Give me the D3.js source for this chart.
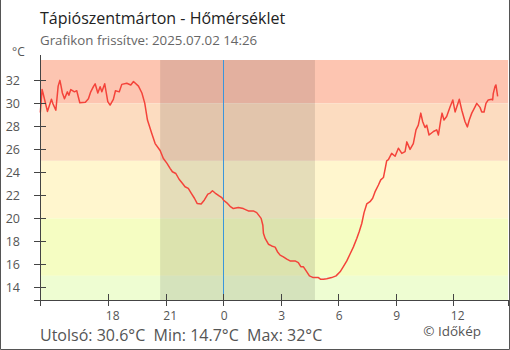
<!DOCTYPE html>
<html>
<head>
<meta charset="utf-8">
<script src="https://cdn.jsdelivr.net/npm/d3@7"></script>
<style>
  html, body { margin: 0; padding: 0; background: #fff; }
  svg { display: block; font-family: "Open Sans", "Noto Sans", sans-serif; }
</style>
</head>
<body>
<svg id="chart" width="510" height="350"></svg>
<script>
// ---- data (time = hours since 2025-07-01 00:00) ----
const title = "Tápiószentmárton - Hőmérséklet";
const subtitle = "Grafikon frissítve: 2025.07.02 14:26";
const footer = "Utolsó: 30.6°C  Min: 14.7°C  Max: 32°C";
const credit = "© Időkép";
const unitLabel = "°C";

const times = [
  14.45,14.54,14.59,14.82,15.03,15.10,15.26,15.38,15.47,15.52,15.60,15.71,15.86,15.94,
  16.04,16.23,16.35,16.51,16.80,16.96,17.08,17.22,17.31,17.45,17.57,17.66,17.81,17.97,
  18.09,18.26,18.37,18.57,18.70,18.96,19.17,19.31,19.57,19.75,19.90,20.04,20.26,20.44,
  20.70,20.87,21.05,21.22,21.34,21.52,21.69,21.86,22.00,22.17,22.32,22.49,22.63,22.84,
  23.01,23.19,23.31,23.43,23.57,23.78,23.92,24.00,24.18,24.35,24.52,24.78,25.04,25.30,
  25.56,25.74,25.83,25.97,26.06,26.09,26.18,26.35,26.52,26.70,26.82,26.96,27.13,27.31,
  27.48,27.74,27.91,28.04,28.17,28.31,28.49,28.69,28.96,29.08,29.22,29.39,29.65,29.88,
  30.09,30.26,30.44,30.61,30.78,30.96,31.09,31.22,31.34,31.48,31.65,31.79,31.91,32.09,
  32.21,32.35,32.44,32.52,32.61,32.78,32.96,33.13,33.31,33.48,33.57,33.74,33.91,34.05,
  34.17,34.30,34.40,34.52,34.61,34.73,34.96,35.13,35.22,35.34,35.41,35.51,35.65,35.83,
  35.97,36.09,36.21,36.31,36.44,36.61,36.73,36.83,36.96,37.13,37.22,37.39,37.48,37.60,
  37.70,37.82,38.00,38.05,38.08,38.17,38.22,38.29,38.31
];
const temps = [
  29.2,31.2,30.9,29.3,30.35,30.0,29.4,31.5,32.0,31.6,30.9,30.4,31.0,30.7,
  31.2,31.0,31.1,30.05,30.1,30.4,31.0,31.45,31.7,30.9,31.45,31.0,31.7,30.15,
  29.85,30.35,31.1,31.0,31.65,31.75,31.6,31.9,31.5,30.9,30.0,28.55,27.4,26.5,
  25.9,25.2,24.8,24.35,24.05,23.9,23.4,23.05,22.75,22.6,22.2,21.75,21.3,21.25,
  21.6,22.1,22.2,22.4,22.2,21.95,21.8,21.6,21.35,21.05,20.85,20.95,20.85,20.65,
  20.65,20.5,20.3,20.0,19.4,18.7,18.25,17.75,17.6,17.5,17.1,16.8,16.65,16.45,
  16.3,16.3,16.15,15.8,15.8,15.45,15.0,14.85,14.85,14.7,14.7,14.75,14.85,15.0,
  15.35,15.8,16.3,16.9,17.5,18.25,18.85,19.55,20.5,21.25,21.45,21.75,22.3,22.9,
  23.35,23.55,24.3,25.0,25.1,25.65,25.4,26.1,25.65,25.8,26.65,26.0,26.5,27.7,
  28.1,29.15,28.4,27.9,28.1,27.25,27.55,27.7,27.25,28.55,29.15,28.55,28.85,29.7,
  30.3,29.25,29.85,30.35,29.4,28.4,27.95,28.55,29.15,29.7,30.0,29.65,29.25,29.25,
  30.0,30.3,30.35,30.3,30.85,31.45,31.6,30.85,30.6
];

const yTicks = [14, 16, 18, 20, 22, 24, 26, 28, 30, 32];
const xTicks = [18, 21, 24, 27, 30, 33, 36];          // hours since 2025-07-01 00:00
const xTickLabels = ["18", "21", "0", "3", "6", "9", "12"];

const bandEdges = [33.77, 30, 25, 20, 15, 12.9];       // °C
const bandColors = ["#fdc5b1", "#fcdcc0", "#fff6ce", "#f5fdc2", "#eefdd2"];

const nightStart = 20.70, nightEnd = 28.78;           // dark period
const midnight = 24;
const timeDomain = [14.433, 38.85];
const tempDomain = [12.9, 33.77];

// ---- layout ----
const svg = d3.select("#chart");
const W = 510, H = 350;
const plot = { left: 40, right: 508, top: 60, bottom: 300 };

const x = d3.scaleLinear().domain(timeDomain).range([plot.left, plot.right]);
const y = d3.scaleLinear().domain(tempDomain).range([plot.bottom, plot.top]);

// bands
const bands = bandColors.map((c, i) => ({ hi: bandEdges[i], lo: bandEdges[i + 1], c }));
svg.append("g").selectAll("rect").data(bands).join("rect")
  .attr("x", plot.left)
  .attr("width", plot.right - plot.left)
  .attr("y", d => y(d.hi))
  .attr("height", d => y(d.lo) - y(d.hi))
  .attr("fill", d => d.c);

// night overlay
svg.append("rect")
  .attr("x", x(nightStart)).attr("width", x(nightEnd) - x(nightStart))
  .attr("y", plot.top).attr("height", plot.bottom - plot.top)
  .attr("fill", "rgba(0,0,0,0.1)");

// midnight line
svg.append("line")
  .attr("x1", Math.round(x(midnight)) + 0.5).attr("x2", Math.round(x(midnight)) + 0.5)
  .attr("y1", plot.top).attr("y2", plot.bottom)
  .attr("stroke", "#3a96dc").attr("stroke-width", 1);

// temperature line
const line = d3.line().x((d, i) => x(times[i])).y(d => y(d));
svg.append("path")
  .attr("d", line(temps))
  .attr("fill", "none")
  .attr("stroke", "#f4433a")
  .attr("stroke-width", 1.5)
  .attr("stroke-linejoin", "round");

// axes
const axisColor = "#444";
const textColor = "#555";
const yAx = svg.append("g");
yAx.append("line")
  .attr("x1", plot.left + 0.5).attr("x2", plot.left + 0.5)
  .attr("y1", 55).attr("y2", plot.bottom)
  .attr("stroke", axisColor);
yAx.selectAll("line.tick").data(yTicks).join("line").attr("class", "tick")
  .attr("x1", plot.left - 6).attr("x2", plot.left + 6)
  .attr("y1", d => Math.round(y(d)) + 0.5).attr("y2", d => Math.round(y(d)) + 0.5)
  .attr("stroke", axisColor);
yAx.selectAll("text").data(yTicks).join("text")
  .attr("x", 20).attr("y", d => y(d))
  .attr("dy", "0.36em")
  .attr("text-anchor", "end")
  .attr("font-size", 12.5)
  .attr("fill", textColor)
  .text(d => d);

const xAx = svg.append("g");
xAx.append("line")
  .attr("x1", plot.left - 6).attr("x2", plot.right)
  .attr("y1", plot.bottom + 0.5).attr("y2", plot.bottom + 0.5)
  .attr("stroke", axisColor);
xAx.selectAll("line.tick").data(xTicks).join("line").attr("class", "tick")
  .attr("x1", d => Math.round(x(d)) + 0.5).attr("x2", d => Math.round(x(d)) + 0.5)
  .attr("y1", plot.bottom - 6).attr("y2", plot.bottom + 6)
  .attr("stroke", axisColor);
xAx.selectAll("line.edge").data(timeDomain).join("line").attr("class", "edge")
  .attr("x1", d => Math.round(x(d)) + 0.5).attr("x2", d => Math.round(x(d)) + 0.5)
  .attr("y1", plot.bottom).attr("y2", plot.bottom + 6)
  .attr("stroke", axisColor);
xAx.selectAll("text").data(xTicks).join("text")
  .attr("x", d => x(d) - 2.6).attr("y", 319.5)
  .attr("text-anchor", "start")
  .attr("font-size", 12)
  .attr("fill", textColor)
  .text((d, i) => xTickLabels[i]);

// texts
svg.append("text").attr("x", 40).attr("y", 24)
  .attr("font-size", 16).attr("fill", "#222").text(title);
svg.append("text").attr("x", 40).attr("y", 45)
  .attr("font-size", 13.3).attr("fill", "#666").text(subtitle);
svg.append("text").attr("x", 12).attr("y", 56)
  .attr("font-size", 12).attr("fill", textColor).text(unitLabel);
svg.append("text").attr("x", 40).attr("y", 340.5)
  .attr("font-size", 16).attr("fill", textColor)
  .style("white-space", "pre").text(footer);
svg.append("text").attr("x", 481).attr("y", 336)
  .attr("text-anchor", "end")
  .attr("font-size", 13.5).attr("fill", textColor).text(credit);

// border (left, bottom, right)
svg.append("path")
  .attr("d", `M0.5,0 V${H - 0.5} H${W - 0.5} V0`)
  .attr("fill", "none").attr("stroke", "#555");
</script>
</body>
</html>
